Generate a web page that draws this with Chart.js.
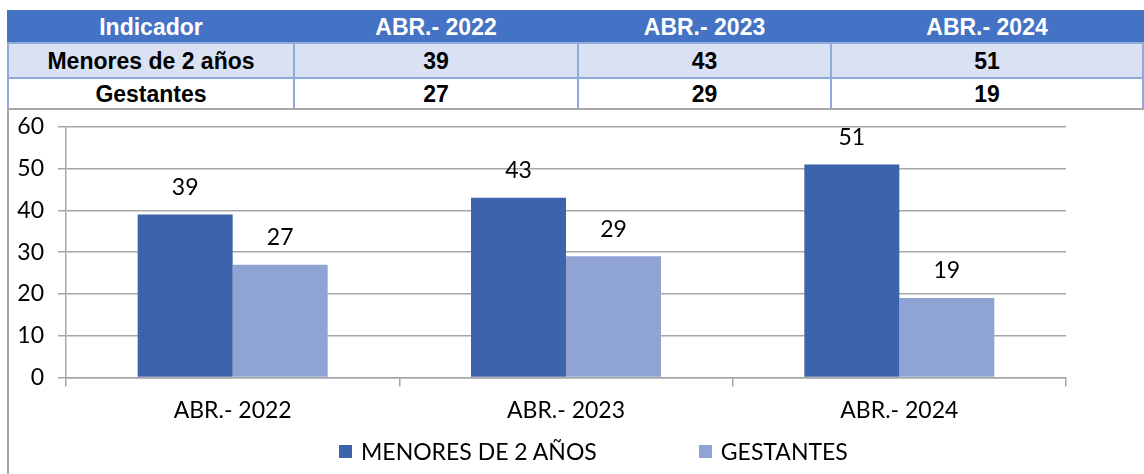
<!DOCTYPE html>
<html>
<head>
<meta charset="utf-8">
<script src="https://cdn.jsdelivr.net/npm/chart.js@4.4.1/dist/chart.umd.min.js"></script>
<style>
  html, body { margin: 0; padding: 0; background: #fff; width: 1144px; height: 474px; overflow: hidden; }
  #tabla { position: absolute; left: 7px; top: 10px; width: 1135px; border-collapse: collapse;
           font-family: "Liberation Sans", Arial, sans-serif; font-weight: bold; font-size: 23px; table-layout: fixed; }
  #tabla td, #tabla th { border: 2px solid #8ea9db; text-align: center; padding: 0; line-height: 26px; }
  #tabla th { background: #4472c4; color: #fff; height: 30px; border-color: #4472c4; border-bottom-color: #8ea9db; }
  #tabla tr.r1 td { background: #d9e1f2; height: 33px; }
  #tabla tr.r2 td { background: #fff; height: 29px; }
  #marco { position: absolute; left: 7px; top: 108px; width: 1137px; height: 366px;
           border-left: 2px solid #a6a6a6; border-top: 2px solid #a6a6a6; box-sizing: border-box; }
  #graf { position: absolute; left: 9px; top: 99px; width: 1135px; height: 375px; }
  #leyenda { position: absolute; left: 339px; top: 437px; display: flex; align-items: center;
             font-family: Lato, "Open Sans", sans-serif; font-size: 23px; color: #000; }
  #leyenda .item { display: flex; align-items: center; margin-right: 102px; }
  #leyenda .caja { width: 13px; height: 13px; margin-right: 9px; }
</style>
</head>
<body>
<table id="tabla">
  <colgroup><col style="width:286px"><col style="width:284px"><col style="width:253px"><col style="width:312px"></colgroup>
  <thead><tr id="cabecera"></tr></thead>
  <tbody id="cuerpo"></tbody>
</table>
<div id="marco"></div>
<div id="graf"><canvas id="grafico"></canvas></div>
<div id="leyenda"></div>
<script>
// datos del cuadro y del gráfico
const periodos = ['ABR.- 2022', 'ABR.- 2023', 'ABR.- 2024'];
const menores = [39, 43, 51];
const gestantes = [27, 29, 19];
const filasTabla = ['Menores de 2 años', 'Gestantes'];
const seriesNombres = ['MENORES DE 2 AÑOS', 'GESTANTES'];
const coloresSeries = ['#3c64ac', '#8fa4d4'];

// armar la tabla de arriba
const cab = document.getElementById('cabecera');
cab.innerHTML = '<th>Indicador</th>' + periodos.map(p => `<th>${p}</th>`).join('');
const cuerpo = document.getElementById('cuerpo');
[menores, gestantes].forEach((serie, i) => {
    cuerpo.innerHTML += `<tr class="r${i + 1}"><td>${filasTabla[i]}</td>` +
        serie.map(v => `<td>${v}</td>`).join('') + '</tr>';
});

// etiquetas con el valor encima de cada barra
const etiquetasValor = {
    id: 'etiquetasValor',
    afterDatasetsDraw(chart) {
        const ctx = chart.ctx;
        ctx.save();
        ctx.font = '23px Lato, "Open Sans", sans-serif';
        ctx.fillStyle = '#000';
        ctx.textAlign = 'center';
        ctx.textBaseline = 'middle';
        chart.data.datasets.forEach((ds, i) => {
            chart.getDatasetMeta(i).data.forEach((bar, j) => {
                ctx.fillText(ds.data[j], bar.x, bar.y - 27);
            });
        });
        ctx.restore();
    }
};

const fuente = { family: 'Lato, "Open Sans", sans-serif', size: 23 };

const grafico = new Chart(document.getElementById('grafico'), {
    type: 'bar',
    data: {
        labels: periodos,
        datasets: [
            { label: seriesNombres[0], data: menores, backgroundColor: coloresSeries[0] },
            { label: seriesNombres[1], data: gestantes, backgroundColor: coloresSeries[1] }
        ]
    },
    options: {
        responsive: true,
        maintainAspectRatio: false,
        animation: false,
        layout: { padding: { top: 3, right: 78, left: 0, bottom: 40 } },
        datasets: { bar: { categoryPercentage: 0.57, barPercentage: 1.0 } },
        plugins: {
            legend: { display: false },
            tooltip: { enabled: false }
        },
        scales: {
            x: {
                grid: { display: true, drawOnChartArea: false, drawTicks: true, tickLength: 9, color: '#a6a6a6', lineWidth: 1.5 },
                border: { display: true, color: '#a6a6a6', width: 1.5 },
                ticks: { font: fuente, color: '#000', padding: 10 }
            },
            y: {
                min: 0,
                max: 60,
                grid: { color: '#a6a6a6', lineWidth: 1.5, tickLength: 8 },
                border: { display: true, color: '#a6a6a6', width: 1.5 },
                ticks: { font: fuente, color: '#000', padding: 14, stepSize: 10, autoSkip: false },
                afterFit: (s) => { s.width = 57; }
            }
        }
    },
    plugins: [etiquetasValor]
});

// leyenda abajo, armada con los datasets del gráfico
document.getElementById('leyenda').innerHTML = grafico.data.datasets.map(ds =>
    `<div class="item"><span class="caja" style="background:${ds.backgroundColor}"></span>${ds.label}</div>`
).join('');
</script>
</body>
</html>
